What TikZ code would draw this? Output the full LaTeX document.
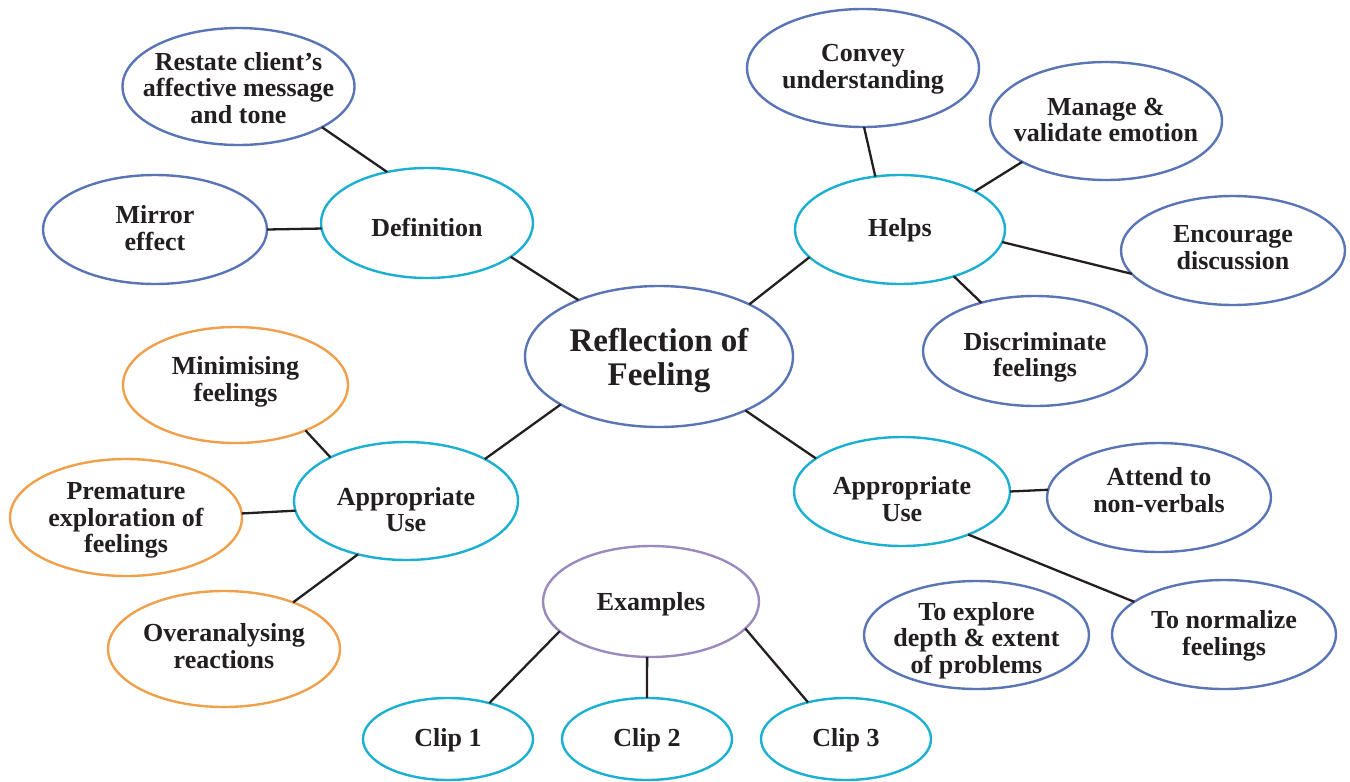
\documentclass[tikz,border=0pt]{standalone}
\usepackage{fontspec}
\setmainfont{Liberation Serif}
\usetikzlibrary{shapes.geometric}
\definecolor{ink}{HTML}{231F20}
\definecolor{bblue}{HTML}{5A75B6}
\definecolor{bcyan}{HTML}{1BAFD2}
\definecolor{borange}{HTML}{F0A04B}
\definecolor{bpurple}{HTML}{9C89BE}
\tikzset{
  bub/.style={ellipse, draw, line width=2.4pt, fill=white, inner sep=0pt, outer sep=0pt},
  blueb/.style={bub, draw=bblue},
  cyanb/.style={bub, draw=bcyan},
  orangeb/.style={bub, draw=borange},
  purpleb/.style={bub, draw=bpurple},
  % texts are placed by the baseline of their last line
  lbl/.style={align=center, text=ink, inner sep=0pt, anchor=base,
    font=\bfseries\fontsize{26}{26.6}\selectfont},
  biglbl/.style={align=center, text=ink, inner sep=0pt, anchor=base,
    font=\bfseries\fontsize{33}{34}\selectfont},
  link/.style={draw=ink, line width=2.3pt},
}
\begin{document}
\begin{tikzpicture}[x=1pt, y=-1pt]
\useasboundingbox (0,0) rectangle (1350,782);

% bubbles: centre, then each branch
\node[blueb, minimum width=268pt, minimum height=141pt] (core) at (659,356.5) {};

\node[cyanb, minimum width=212pt, minimum height=110pt] (def) at (427,223) {};
\node[blueb, minimum width=232pt, minimum height=117pt] (restate) at (238.5,86.5) {};
\node[blueb, minimum width=224pt, minimum height=109pt] (mirror) at (155,229.5) {};

\node[cyanb, minimum width=210pt, minimum height=109pt] (helps) at (900,229.5) {};
\node[blueb, minimum width=232pt, minimum height=118pt] (convey) at (863,68) {};
\node[blueb, minimum width=232pt, minimum height=118pt] (manage) at (1106,121) {};
\node[blueb, minimum width=224pt, minimum height=109pt] (encourage) at (1233,250.5) {};
\node[blueb, minimum width=224pt, minimum height=110pt] (discrim) at (1035,351) {};

\node[cyanb, minimum width=224pt, minimum height=118pt] (useL) at (406,501) {};
\node[orangeb, minimum width=225pt, minimum height=116pt] (minim) at (235.5,385) {};
\node[orangeb, minimum width=232pt, minimum height=117pt] (premat) at (126,517.5) {};
\node[orangeb, minimum width=232pt, minimum height=116pt] (overan) at (224,649) {};

\node[cyanb, minimum width=216pt, minimum height=109pt] (useR) at (902,491.5) {};
\node[blueb, minimum width=224pt, minimum height=109pt] (attend) at (1159,497.5) {};
\node[blueb, minimum width=225pt, minimum height=108pt] (explore) at (976.5,635) {};
\node[blueb, minimum width=224pt, minimum height=109pt] (normal) at (1224,634.5) {};

\node[purpleb, minimum width=216pt, minimum height=111pt] (examples) at (651,601.5) {};
\node[cyanb, minimum width=170pt, minimum height=82pt] (clip1) at (448,739) {};
\node[cyanb, minimum width=170pt, minimum height=82pt] (clip2) at (647,739) {};
\node[cyanb, minimum width=170pt, minimum height=82pt] (clip3) at (846,739) {};

% texts
\node[biglbl] (core-t) at (659,385) {Reflection of\\Feeling};
\node[lbl] (def-t) at (427,236.7) {Definition};
\node[lbl] (restate-t) at (238.5,123.3) {Restate client’s\\affective message\\and tone};
\node[lbl] (mirror-t) at (155,250) {Mirror\\effect};
\node[lbl] (helps-t) at (900,236.7) {Helps};
\node[lbl] (convey-t) at (863,88) {Convey\\understanding};
\node[lbl] (manage-t) at (1106,141.7) {Manage \&\\validate emotion};
\node[lbl] (encourage-t) at (1233,269.3) {Encourage\\discussion};
\node[lbl] (discrim-t) at (1035,376.7) {Discriminate\\feelings};
\node[lbl] (useL-t) at (406,531.7) {Appropriate\\Use};
\node[lbl] (minim-t) at (235.5,401.5) {Minimising\\feelings};
\node[lbl] (premat-t) at (126,552.7) {Premature\\exploration of\\feelings};
\node[lbl] (overan-t) at (224,668.5) {Overanalysing\\reactions};
\node[lbl] (useR-t) at (902,521) {Appropriate\\Use};
\node[lbl] (attend-t) at (1159,512) {Attend to\\non-verbals};
\node[lbl] (explore-t) at (976.5,673.3) {To explore\\depth \& extent\\of problems};
\node[lbl] (normal-t) at (1224,655) {To normalize\\feelings};
\node[lbl] (examples-t) at (651,610.7) {Examples};
\node[lbl] (clip1-t) at (448,746.5) {Clip 1};
\node[lbl] (clip2-t) at (647,746.5) {Clip 2};
\node[lbl] (clip3-t) at (846,746.5) {Clip 3};

% connectors
\draw[link] (restate.-26) -- (def.128);
\draw[link] (mirror.0) -- (def.183);
\draw[link] (def.-22) -- (core.145);
\draw[link] (core.30) -- (helps.197);
\draw[link] (convey.-89) -- (helps.115);
\draw[link] (manage.206) -- (helps.27);
\draw[link] (helps.-7) -- (encourage.193.5);
\draw[link] (helps.-41) -- (discrim.138);
\draw[link] (core.206) -- (useL.28);
\draw[link] (minim.-33) -- (useL.150);
\draw[link] (premat.2.7) -- (useL.185.7);
\draw[link] (useL.228) -- (overan.34);
\draw[link] (core.-32.5) -- (useR.159);
\draw[link] (useR.0) -- (attend.176.7);
\draw[link] (useR.-33) -- (normal.160);
\draw[link] (examples.198) -- (clip1.41);
\draw[link] (examples.-94) -- (clip2.north);
\draw[link] (examples.-16) -- (clip3.136);
\end{tikzpicture}
\end{document}
